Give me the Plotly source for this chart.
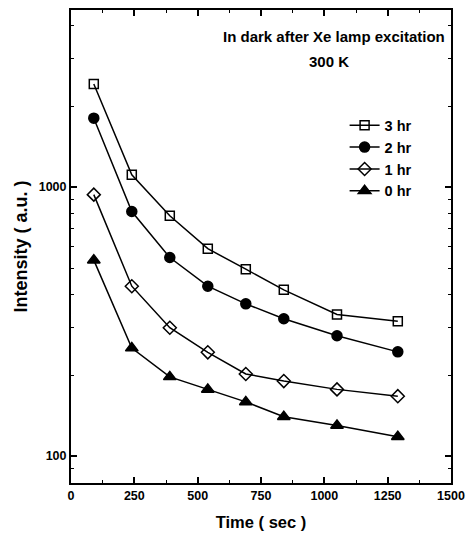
import plotly.graph_objects as go

time_sec = [90, 240, 390, 540, 690, 840, 1050, 1290]
series_names = ["3 hr", "2 hr", "1 hr", "0 hr"]
int_3hr = [2415, 1110, 782, 590, 495, 415, 336, 317]
int_2hr = [1803, 811, 547, 428, 368, 324, 280, 244]
int_1hr = [937, 428, 300, 243, 202, 190, 177, 167]
int_0hr = [535, 252, 197, 177, 159, 140, 130, 118]

x_ticks = [0, 250, 500, 750, 1000, 1250, 1500]
x_minor = [125, 375, 625, 875, 1125, 1375]
y_ticks = [100, 1000]
y_minor = [90, 200, 300, 400, 500, 600, 700, 800, 900, 2000, 3000, 4000]

symbols = ["square-open", "circle", "diamond-open", "triangle-up"]
sizes = [9, 10, 10, 11]
data = [int_3hr, int_2hr, int_1hr, int_0hr]

font_fam = "Liberation Sans, Arial, sans-serif"

fig = go.Figure()
for name, ys, sym, sz in zip(series_names, data, symbols, sizes):
    fig.add_trace(go.Scatter(
        x=time_sec, y=ys, name=name, mode="lines+markers",
        line=dict(color="black", width=1.5),
        marker=dict(symbol=sym, size=sz, color="black",
                    line=dict(color="black", width=1.5)),
    ))

fig.update_layout(
    width=473, height=537,
    margin=dict(l=71, r=15, t=8, b=51),
    paper_bgcolor="white", plot_bgcolor="white",
    font=dict(family=font_fam, size=12, color="black", weight="bold"),
    showlegend=True,
    legend=dict(x=0.72, y=0.79, xanchor="left", yanchor="top",
                bgcolor="rgba(0,0,0,0)", font=dict(size=14.5, weight="bold"),
                itemwidth=30, tracegroupgap=0),
    annotations=[
        dict(text="In dark after Xe lamp excitation", xref="paper", yref="paper",
             x=0.99, y=0.943, xanchor="right", yanchor="middle", showarrow=False,
             font=dict(size=15, weight="bold")),
        dict(text="300 K", xref="paper", yref="paper",
             x=0.679, y=0.891, xanchor="center", yanchor="middle", showarrow=False,
             font=dict(size=15, weight="bold")),
    ],
)

fig.update_xaxes(
    range=[0, 1500], tickvals=x_ticks, ticktext=[str(v) for v in x_ticks],
    ticks="inside", ticklen=6, tickwidth=1.5, tickcolor="black",
    showline=True, linecolor="black", linewidth=2, mirror="ticks",
    showgrid=False, zeroline=False,
    minor=dict(tickvals=x_minor, ticks="inside", ticklen=3, tickwidth=1.2, tickcolor="black", showgrid=False),
    title=dict(text="Time ( sec )", font=dict(size=16.5, weight="bold"), standoff=14),
    tickfont=dict(size=12.5, weight="bold"),
)
fig.update_yaxes(
    type="log", range=[1.9, 3.658], tickvals=y_ticks, ticktext=["100", "1000"],
    ticks="inside", ticklen=6, tickwidth=1.5, tickcolor="black",
    showline=True, linecolor="black", linewidth=2, mirror="ticks",
    showgrid=False, zeroline=False,
    minor=dict(tickvals=y_minor, ticks="inside", ticklen=3, tickwidth=1.2, tickcolor="black", showgrid=False),
    title=dict(text="Intensity ( a.u. )", font=dict(size=18, weight="bold"), standoff=6),
    tickfont=dict(size=12.5, weight="bold"),
)

fig.write_html("out.html")
